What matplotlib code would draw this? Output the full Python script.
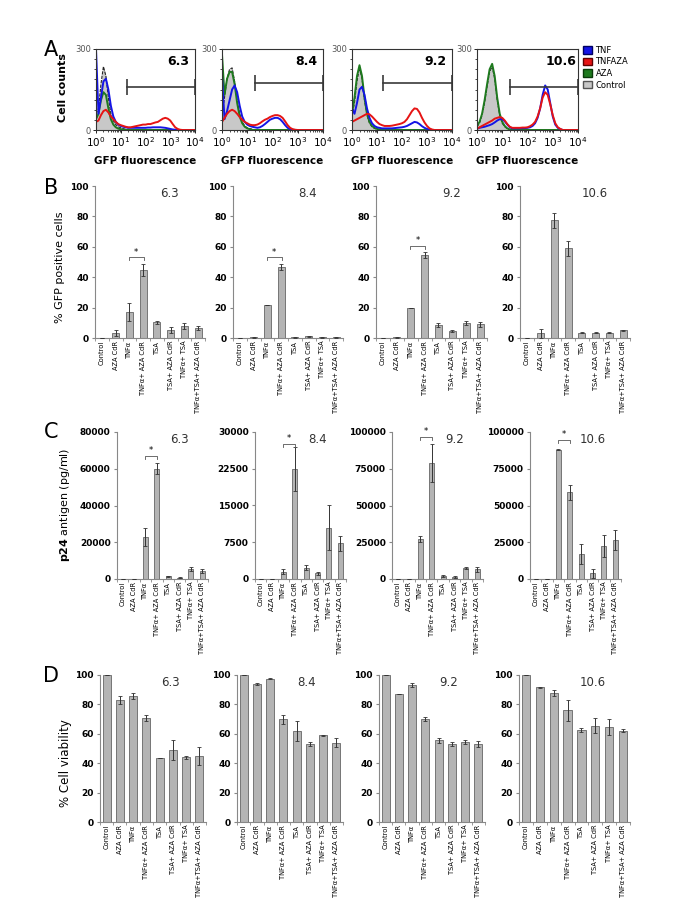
import numpy as np
import matplotlib.pyplot as plt
from matplotlib.patches import Patch
from matplotlib.ticker import MultipleLocator
from matplotlib import font_manager

W, H = 685, 917

# Panel A: flow histograms, cell counts per log10 bin (0.0 .. 4.0 in 0.1 steps)
hist_tags = ['6.3', '8.4', '9.2', '10.6']
ctrl_hist = [
    [60, 80, 170, 235, 200, 120, 60, 35, 20, 12, 8, 5, 3, 2, 0, 0, 0, 0, 0, 0, 0, 0, 0, 0, 0, 0, 0, 0, 0, 0, 0, 0, 0, 0, 0, 0, 0, 0, 0, 0, 0],
    [50, 120, 190, 225, 230, 180, 110, 60, 30, 15, 8, 5, 3, 1, 0, 0, 0, 0, 0, 0, 0, 0, 0, 0, 0, 0, 0, 0, 0, 0, 0, 0, 0, 0, 0, 0, 0, 0, 0, 0, 0],
    [50, 100, 180, 230, 190, 110, 55, 25, 12, 6, 3, 0, 0, 0, 0, 0, 0, 0, 0, 0, 0, 0, 0, 0, 0, 0, 0, 0, 0, 0, 0, 0, 0, 0, 0, 0, 0, 0, 0, 0, 0],
    [12, 25, 55, 100, 160, 215, 235, 190, 110, 55, 25, 12, 5, 1, 0, 0, 0, 0, 0, 0, 0, 0, 0, 0, 0, 0, 0, 0, 0, 0, 0, 0, 0, 0, 0, 0, 0, 0, 0, 0, 0],
]
aza_hist = [
    [40, 60, 110, 140, 130, 80, 40, 20, 10, 5, 3, 1, 0, 0, 0, 0, 0, 0, 0, 0, 0, 0, 0, 0, 0, 0, 0, 0, 0, 0, 0, 0, 0, 0, 0, 0, 0, 0, 0, 0, 0],
    [280, 130, 190, 215, 215, 170, 100, 50, 25, 12, 6, 3, 0, 0, 0, 0, 0, 0, 0, 0, 0, 0, 0, 0, 0, 0, 0, 0, 0, 0, 0, 0, 0, 0, 0, 0, 0, 0, 0, 0, 0],
    [60, 120, 200, 240, 200, 120, 60, 30, 15, 8, 4, 2, 0, 0, 0, 0, 0, 0, 0, 0, 0, 0, 0, 0, 0, 0, 0, 0, 0, 0, 0, 0, 0, 0, 0, 0, 0, 0, 0, 0, 0],
    [15, 30, 60, 110, 170, 225, 245, 200, 120, 60, 30, 15, 6, 2, 0, 0, 0, 0, 0, 0, 0, 0, 0, 0, 0, 0, 0, 0, 0, 0, 0, 0, 0, 0, 0, 0, 0, 0, 0, 0, 0],
]
tnf_hist = [
    [300, 60, 120, 180, 190, 150, 90, 50, 30, 20, 15, 12, 10, 8, 8, 8, 8, 8, 8, 8, 8, 9, 9, 10, 10, 10, 10, 9, 8, 6, 4, 2, 1, 0, 0, 0, 0, 0, 0, 0, 0],
    [200, 40, 70, 110, 150, 165, 140, 90, 50, 30, 20, 15, 12, 10, 8, 10, 15, 22, 30, 38, 42, 45, 45, 40, 30, 18, 8, 3, 1, 0, 0, 0, 0, 0, 0, 0, 0, 0, 0, 0, 0],
    [80, 60, 100, 150, 160, 130, 80, 45, 25, 15, 10, 8, 6, 6, 6, 6, 6, 7, 8, 9, 10, 12, 15, 20, 25, 30, 28, 22, 14, 8, 4, 1, 0, 0, 0, 0, 0, 0, 0, 0, 0],
    [5, 8, 10, 12, 15, 18, 22, 28, 35, 40, 40, 32, 20, 10, 6, 6, 6, 6, 7, 7, 8, 10, 15, 25, 45, 80, 130, 165, 150, 100, 50, 20, 8, 3, 0, 0, 0, 0, 0, 0, 0],
]
tnfaza_hist = [
    [30, 35, 55, 70, 75, 65, 50, 40, 30, 22, 18, 15, 12, 10, 10, 12, 14, 16, 18, 20, 20, 22, 22, 25, 28, 30, 36, 42, 45, 42, 35, 22, 10, 4, 1, 0, 0, 0, 0, 0, 0],
    [30, 45, 60, 70, 75, 70, 60, 48, 38, 30, 25, 20, 18, 18, 20, 25, 32, 38, 42, 48, 52, 55, 55, 52, 45, 32, 18, 8, 3, 1, 0, 0, 0, 0, 0, 0, 0, 0, 0, 0, 0],
    [30, 35, 40, 45, 50, 55, 60, 58, 50, 40, 30, 22, 18, 15, 15, 15, 16, 18, 20, 22, 25, 30, 40, 55, 70, 80, 78, 65, 45, 28, 15, 6, 2, 0, 0, 0, 0, 0, 0, 0, 0],
    [5, 10, 15, 20, 25, 30, 35, 42, 45, 48, 45, 35, 22, 12, 8, 8, 8, 8, 9, 9, 10, 14, 20, 30, 50, 80, 120, 140, 130, 95, 55, 25, 10, 4, 0, 0, 0, 0, 0, 0, 0],
]
gate_start = [1.25, 1.3, 1.25, 1.3]
gate_level = [160, 175, 175, 160]

# Panels B-D
treatments = ['Control', 'AZA CdR', 'TNFα', 'TNFα+ AZA CdR', 'TSA',
              'TSA+ AZA CdR', 'TNFα+ TSA', 'TNFα+TSA+ AZA CdR']

gfp_vals = [[0, 3, 17, 45, 10.5, 5.5, 8, 6.5],
            [0, 0.5, 22, 46.5, 0.5, 1, 0.5, 0.5],
            [0, 0.5, 20, 54.5, 8.5, 4.5, 10, 9],
            [0, 3, 77.5, 59, 3.5, 3.5, 3.5, 5]]
gfp_errs = [[0, 2, 6, 4, 1, 2, 2, 1.5],
            [0, 0.3, 0, 2, 0.3, 0.5, 0.3, 0.3],
            [0, 0.3, 0, 2, 1.5, 0.5, 1.5, 1.5],
            [0, 3, 5, 5, 0.3, 0.3, 0.3, 0.5]]

p24_vals = [[0, 0, 23000, 60000, 1500, 800, 5500, 4500],
            [0, 0, 1500, 22500, 2300, 1200, 10500, 7300],
            [0, 0, 27000, 79000, 2000, 1500, 7500, 6500],
            [0, 0, 88000, 59000, 17000, 4000, 22500, 26500]]
p24_errs = [[0, 0, 5000, 3000, 300, 300, 1000, 1000],
            [0, 0, 500, 4500, 500, 300, 4500, 1500],
            [0, 0, 2000, 13000, 500, 500, 500, 1500],
            [0, 0, 500, 5000, 6500, 3000, 7500, 6500]]
p24_max = [80000, 30000, 100000, 100000]
p24_ticks = [[0, 20000, 40000, 60000, 80000],
             [0, 7500, 15000, 22500, 30000],
             [0, 25000, 50000, 75000, 100000],
             [0, 25000, 50000, 75000, 100000]]

via_vals = [[100, 83, 86, 71, 43.5, 49, 44, 45],
            [100, 94, 97.5, 70, 62, 53, 59, 54],
            [100, 87, 93, 70, 55.5, 53, 54.5, 53],
            [100, 91.5, 87.5, 76, 62.5, 65.5, 64.5, 62]]
via_errs = [[0, 3, 2, 2, 0, 7, 1, 6],
            [0, 0.5, 0.3, 3, 7, 1.5, 0.3, 3],
            [0, 0, 1.5, 1.5, 1.5, 1.5, 1.5, 2],
            [0, 0.3, 2, 7, 1.5, 5, 5.5, 1]]

# significance brackets (bar index, height)
gfp_star = [(2, 53), (2, 53), (2, 60.5), None]
p24_star = [(2, 67000), (2, 27500), (2, 96500), (2, 94500)]

installed = {f.name for f in font_manager.fontManager.ttflist}
narrow = 'Liberation Sans Narrow' if 'Liberation Sans Narrow' in installed else 'DejaVu Sans'

fig = plt.figure(figsize=(W / 100, H / 100), dpi=100)


def px_axes(x0, x1, y0, y1):
    return fig.add_axes([x0 / W, 1 - y1 / H, (x1 - x0) / W, (y1 - y0) / H])


# ---- A
a_cols = [(96, 195), (222, 323), (352, 452), (477, 578)]
xs = np.linspace(0, 4, 41)
for k in range(4):
    ax = px_axes(*a_cols[k], 49, 130)
    ax.fill_between(xs, ctrl_hist[k], color='#c8c8c8', lw=0)
    ax.plot(xs, ctrl_hist[k], color='#222222', lw=0.8, ls=(0, (3, 1)))
    ax.plot(xs, aza_hist[k], color='#1e7a1e', lw=1.4)
    ax.plot(xs, tnf_hist[k], color='#1414e6', lw=1.4)
    ax.plot(xs, tnfaza_hist[k], color='#e61414', lw=1.4)
    g0, lvl = gate_start[k], gate_level[k]
    ax.plot([g0, 4], [lvl, lvl], color='#3a3a3a', lw=1.2, clip_on=False)
    ax.vlines([g0, 4], lvl - 30, lvl + 30, color='#3a3a3a', lw=1.2, clip_on=False)
    ax.set_xlim(0, 4)
    ax.set_ylim(0, 300)
    ax.set_xticks(range(5))
    ax.set_xticklabels([f'$10^{{{i}}}$' for i in range(5)], fontsize=7.5)
    ax.set_xticks([d + np.log10(m) for d in range(4) for m in range(2, 10)], minor=True)
    ax.set_yticks([0, 300])
    ax.set_yticklabels(['0', '300'], fontsize=6, color='#555555')
    ax.yaxis.set_minor_locator(MultipleLocator(37.5))
    ax.tick_params(length=2.5, width=0.6, pad=1)
    ax.tick_params(which='minor', length=1.5, width=0.5)
    for s in ax.spines.values():
        s.set_linewidth(0.8)
        s.set_color('#333333')
    ax.text(0.83, 0.84, hist_tags[k], transform=ax.transAxes, ha='center',
            va='center', fontsize=9, fontweight='bold')
    ax.set_xlabel('GFP fluorescence', fontsize=7.5, fontweight='bold', labelpad=5)

fig.legend(handles=[Patch(fc='#1414e6', ec='#000060'), Patch(fc='#e61414', ec='#600000'),
                    Patch(fc='#1e7a1e', ec='#0a3a0a'), Patch(fc='#c8c8c8', ec='#555555')],
           labels=['TNF', 'TNFAZA', 'AZA', 'Control'], loc='upper left',
           bbox_to_anchor=(583 / W, 1 - 46 / H), frameon=False, fontsize=6,
           handlelength=1.1, handleheight=1.0, labelspacing=0.3, handletextpad=0.4,
           borderaxespad=0, borderpad=0)


def bar_panel(ax, vals, errs, ymax, ticks, tag, tag_x, star, width):
    x = np.arange(len(treatments))
    ax.bar(x, vals, width, color='#b4b4b4', edgecolor='#666666', lw=0.6, zorder=2)
    ax.errorbar(x, vals, yerr=errs, fmt='none', ecolor='#333333', elinewidth=0.7,
                capsize=1.2, capthick=0.6, zorder=3)
    ax.set_xlim(-0.5, len(x) - 0.5)
    ax.set_ylim(0, ymax)
    ax.set_yticks(ticks)
    ax.set_yticklabels([str(t) for t in ticks], fontsize=6.5, fontweight='bold')
    ax.set_xticks(x)
    ax.set_xticklabels(treatments, rotation=90, fontsize=4.8, family=narrow)
    ax.set_xticks(np.arange(-0.5, len(x)), minor=True)
    ax.tick_params(axis='x', which='major', length=0, pad=2)
    ax.tick_params(axis='x', which='minor', length=2.5, color='#888888')
    ax.tick_params(axis='y', length=2.5, color='#888888', pad=2)
    for s in ['top', 'right']:
        ax.spines[s].set_visible(False)
    for s in ['left', 'bottom']:
        ax.spines[s].set_color('#888888')
        ax.spines[s].set_linewidth(0.8)
    ax.text(tag_x, 0.95, tag, transform=ax.transAxes, ha='center', va='center',
            fontsize=8.5, color='#333333')
    if star:
        i, y = star
        d = ymax * 0.02
        ax.plot([i - 0.05, i - 0.05, i + 1.05, i + 1.05], [y - d, y, y, y - d],
                color='#555555', lw=0.6, clip_on=False, zorder=4)
        ax.text(i + 0.5, y + d * 0.3, '*', ha='center', va='bottom', fontsize=6)


# ---- B
b_cols = [(95, 205), (233, 343), (376, 487), (520, 630)]
for k in range(4):
    ax = px_axes(*b_cols[k], 186, 338)
    bar_panel(ax, gfp_vals[k], gfp_errs[k], 100, [0, 20, 40, 60, 80, 100],
              hist_tags[k], 0.68, gfp_star[k], 0.5)

# ---- C
c_cols = [(117, 208), (255, 346), (392, 483), (530, 621)]
for k in range(4):
    ax = px_axes(*c_cols[k], 432, 579)
    bar_panel(ax, p24_vals[k], p24_errs[k], p24_max[k], p24_ticks[k],
              hist_tags[k], 0.69, p24_star[k], 0.45)

# ---- D
d_cols = [(100, 206), (237, 343), (379, 485), (519, 630)]
for k in range(4):
    ax = px_axes(*d_cols[k], 675, 822)
    bar_panel(ax, via_vals[k], via_errs[k], 100, [0, 20, 40, 60, 80, 100],
              hist_tags[k], 0.66, None, 0.6)

fig.text(63 / W, 1 - 88 / H, 'Cell counts', rotation=90, fontsize=8, fontweight='bold',
         ha='center', va='center')
fig.text(60 / W, 1 - 267 / H, '% GFP positive cells', rotation=90, fontsize=8,
         family=narrow, ha='center', va='center')
fig.text(65 / W, 1 - 505 / H, r'$\mathbf{p24}$ antigen (pg/ml)', rotation=90, fontsize=8,
         family=narrow, ha='center', va='center')
fig.text(65 / W, 1 - 763 / H, '% Cell viability', rotation=90, fontsize=8.5,
         family=narrow, ha='center', va='center')

for letter, y in [('A', 50), ('B', 188), ('C', 432), ('D', 676)]:
    fig.text(51 / W, 1 - y / H, letter, fontsize=15, ha='center', va='center')

fig.savefig('out.png', dpi=100)
